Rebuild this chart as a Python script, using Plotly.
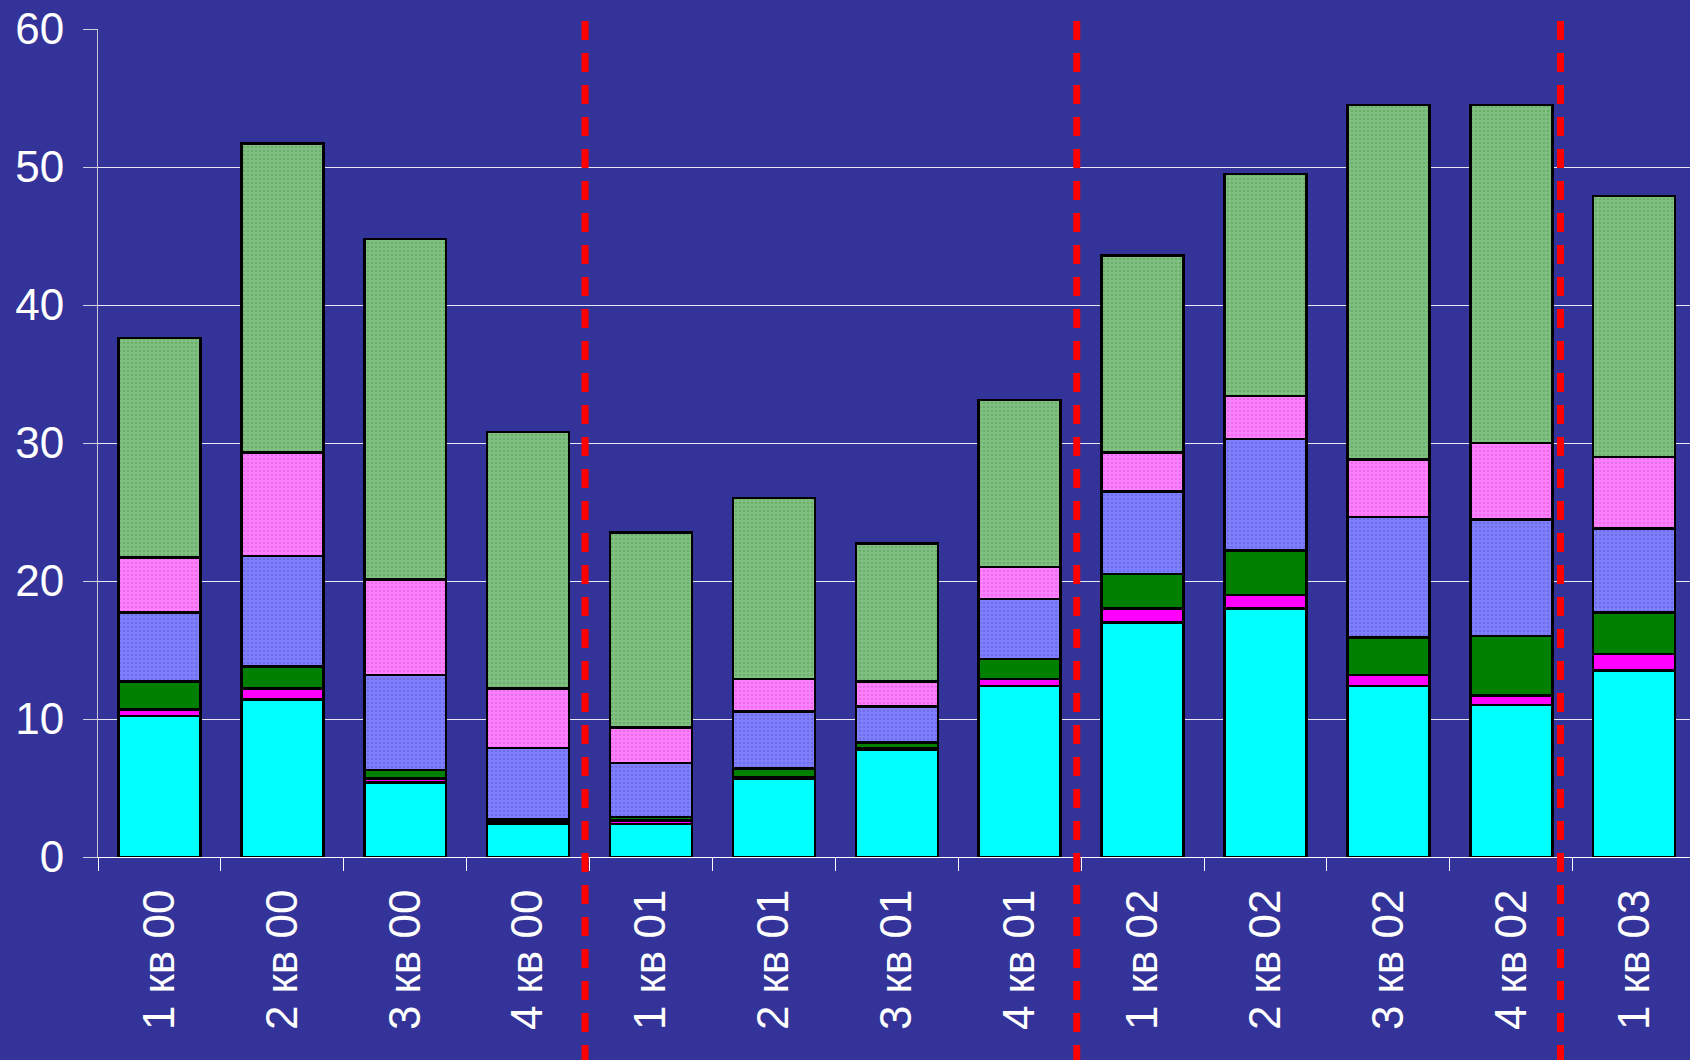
import plotly.graph_objects as go

categories = ["1 кв 00", "2 кв 00", "3 кв 00", "4 кв 00",
              "1 кв 01", "2 кв 01", "3 кв 01", "4 кв 01",
              "1 кв 02", "2 кв 02", "3 кв 02", "4 кв 02",
              "1 кв 03"]

s_cyan = [10.2, 11.4, 5.4, 2.4, 2.4, 5.7, 7.75, 12.4, 17.0, 18.0, 12.4, 11.0, 13.5]
s_magenta = [0.5, 0.8, 0.3, 0.15, 0.25, 0.1, 0.1, 0.5, 1.0, 1.0, 0.8, 0.7, 1.2]
s_dgreen = [2.0, 1.6, 0.6, 0.15, 0.25, 0.6, 0.45, 1.45, 2.5, 3.2, 2.7, 4.3, 3.0]
s_blue = [5.0, 8.0, 6.9, 5.2, 3.9, 4.15, 2.6, 4.35, 6.0, 8.1, 8.75, 8.45, 6.1]
s_pink = [4.0, 7.5, 6.9, 4.3, 2.6, 2.35, 1.8, 2.3, 2.8, 3.1, 4.15, 5.55, 5.2]
s_lgreen = [15.9, 22.4, 24.7, 18.6, 14.1, 13.1, 10.0, 12.1, 14.3, 16.1, 25.7, 24.5, 18.9]

y_ticks = [0, 10, 20, 30, 40, 50, 60]
divider_positions = [3.463, 7.464, 11.40]

series = [
    (s_cyan, "#00FFFF", None),
    (s_magenta, "#FF00FF", None),
    (s_dgreen, "#008000", None),
    (s_blue, "#8080FF", "#6C6CE6"),
    (s_pink, "#FF80FF", "#E86CE8"),
    (s_lgreen, "#80C080", "#6CAE6C"),
]

fig = go.Figure()
for vals, col, fg in series:
    marker = dict(color=col, line=dict(color="black", width=2.5))
    if fg:
        marker["pattern"] = dict(shape=".", fgcolor=fg, bgcolor=col,
                                 size=4, solidity=0.3, fillmode="replace")
    fig.add_trace(go.Bar(x=categories, y=vals, marker=marker,
                         showlegend=False, hoverinfo="y"))

shapes = []
for xp in divider_positions:
    shapes.append(dict(type="line", xref="x", yref="paper",
                       x0=xp, x1=xp, y0=-0.25, y1=1.019,
                       line=dict(color="#FF0000", width=7, dash="19px,13px"),
                       layer="above"))

fig.update_layout(
    width=1690, height=1060,
    barmode="stack", bargap=0.333,
    paper_bgcolor="#333399", plot_bgcolor="#333399",
    margin=dict(l=98, r=0, t=29, b=203),
    font=dict(family="Liberation Sans, Arial, sans-serif", color="white", size=44),
    shapes=shapes,
)
fig.update_xaxes(
    type="category", range=[-0.5, 12.454],
    tickangle=-90, tickson="boundaries",
    ticks="outside", ticklen=13, tickcolor="white", tickwidth=1,
    showline=True, linecolor="white", linewidth=1,
    showgrid=False, ticklabelstandoff=14,
    tickfont=dict(size=44, color="white"),
)
fig.update_yaxes(
    range=[0, 60], tickvals=y_ticks,
    ticks="outside", ticklen=14, tickcolor="#D0D0E0", tickwidth=1,
    showline=True, linecolor="#C8C8D8", linewidth=1,
    showgrid=True, gridcolor="#E8E8F8", gridwidth=1,
    zeroline=False, ticklabelstandoff=10,
    tickfont=dict(size=44, color="white"),
)

fig.write_html("out.html",
               config={"displayModeBar": False},
               post_script="document.body.style.margin='0';document.body.style.background='#333399';")
